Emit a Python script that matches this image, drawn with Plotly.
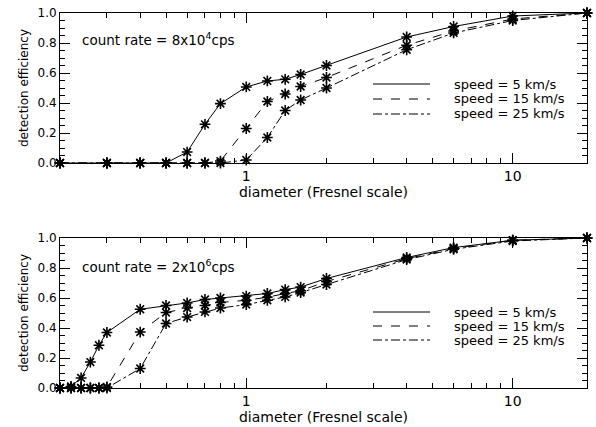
import math
import plotly.graph_objects as go

# ---- data ----
x_top = [0.2, 0.3, 0.4, 0.5, 0.6, 0.7, 0.8, 1.0, 1.2, 1.4, 1.6, 2.0, 4.0, 6.0, 10.0, 19.0]
top_v5 = [0.0, 0.0, 0.0, 0.0, 0.073, 0.258, 0.396, 0.507, 0.547, 0.558, 0.59, 0.65, 0.84, 0.91, 0.98, 1.0]
top_v15 = [0.0, 0.0, 0.0, 0.0, 0.0, 0.0, 0.013, 0.23, 0.41, 0.46, 0.51, 0.57, 0.785, 0.88, 0.96, 1.0]
top_v25 = [0.0, 0.0, 0.0, 0.0, 0.0, 0.0, 0.0, 0.02, 0.17, 0.35, 0.42, 0.50, 0.755, 0.867, 0.95, 1.0]

x_bot = [0.2, 0.22, 0.24, 0.26, 0.28, 0.3, 0.4, 0.5, 0.6, 0.7, 0.8, 1.0, 1.2, 1.4, 1.6, 2.0, 4.0, 6.0, 10.0, 19.0]
bot_v5 = [0.0, 0.01, 0.067, 0.173, 0.285, 0.37, 0.525, 0.55, 0.567, 0.59, 0.60, 0.613, 0.63, 0.656, 0.673, 0.73, 0.87, 0.936, 0.985, 1.0]
bot_v15 = [0.0, 0.0, 0.0, 0.0, 0.0, 0.007, 0.373, 0.503, 0.533, 0.55, 0.57, 0.585, 0.605, 0.63, 0.648, 0.71, 0.862, 0.93, 0.985, 1.0]
bot_v25 = [0.0, 0.0, 0.0, 0.0, 0.0, 0.0, 0.13, 0.43, 0.473, 0.507, 0.533, 0.556, 0.585, 0.607, 0.636, 0.69, 0.856, 0.925, 0.98, 1.0]

series_names = ["speed = 5 km/s", "speed = 15 km/s", "speed = 25 km/s"]
dashes = ["solid", "dash", "dashdot"]
panel_labels = ["count rate = 8x10<sup>4</sup>cps", "count rate = 2x10<sup>6</sup>cps"]
x_ticks = [1, 10]
x_minor = [0.2, 0.3, 0.4, 0.5, 0.6, 0.7, 0.8, 0.9, 2, 3, 4, 5, 6, 7, 8, 9]

FONT = "DejaVu Sans"
W, H = 596, 427
ML, MR, MT, MB = 60, 9, 13, 39
PW, PH = W - ML - MR, H - MT - MB

def py(px):  # pixel y (from top of page) -> paper fraction
    return (H - MB - px) / PH

def pxf(px):  # pixel x -> paper fraction
    return (px - ML) / PW

fig = go.Figure()

panels = [
    (x_top, [top_v5, top_v15, top_v25], "x", "y"),
    (x_bot, [bot_v5, bot_v15, bot_v25], "x2", "y2"),
]

for xs, ys_list, xa, ya in panels:
    for name, ys, dash in zip(series_names, ys_list, dashes):
        fig.add_trace(go.Scatter(
            x=xs, y=ys, mode="lines+markers", xaxis=xa, yaxis=ya, name=name,
            line=dict(color="black", width=1, dash=dash),
            marker=dict(symbol="asterisk-open", size=9, line=dict(color="black", width=1.6)),
            showlegend=False, cliponaxis=False,
        ))

xrange_ = [math.log10(0.2), math.log10(19.0)]

def xaxis_cfg(anchor):
    return dict(
        type="log", range=xrange_, anchor=anchor, automargin=False,
        tickvals=x_ticks, ticktext=[str(v) for v in x_ticks],
        ticks="inside", ticklen=10, tickwidth=1, tickcolor="black",
        minor=dict(tickvals=x_minor, ticks="inside", ticklen=5, tickwidth=1, tickcolor="black"),
        showline=True, linecolor="black", linewidth=1, mirror="ticks",
        showgrid=False, zeroline=False,
        title=dict(text="diameter (Fresnel scale)", font=dict(size=14, family=FONT, color="black"), standoff=0),
        tickfont=dict(size=14, family=FONT, color="black"),
        domain=[0, 1],
    )

def yaxis_cfg(anchor, dom):
    return dict(
        range=[0, 1.0], anchor=anchor, automargin=False,
        dtick=0.2, tick0=0, tickformat=".1f",
        ticks="inside", ticklen=10, tickwidth=1, tickcolor="black",
        minor=dict(dtick=0.05, ticks="inside", ticklen=5, tickwidth=1, tickcolor="black"),
        showline=True, linecolor="black", linewidth=1, mirror="ticks",
        showgrid=False, zeroline=False,
        title=dict(text="detection efficiency", font=dict(size=12, family=FONT, color="black"), standoff=6),
        tickfont=dict(size=12, family=FONT, color="black"),
        domain=dom,
    )

annotations = []
shapes = []
label_y = [39, 266]
legend_rows = [[84, 99, 114], [312, 326, 340]]
for i in range(2):
    annotations.append(dict(
        text=panel_labels[i], xref="paper", yref="paper", x=pxf(80), y=py(label_y[i]),
        xanchor="left", yanchor="middle", showarrow=False,
        font=dict(size=13.5, family=FONT, color="black")))
    for name, dash, ry in zip(series_names, dashes, legend_rows[i]):
        shapes.append(dict(type="line", xref="paper", yref="paper",
                           x0=pxf(373), x1=pxf(430), y0=py(ry), y1=py(ry),
                           line=dict(color="black", width=1, dash=dash)))
        annotations.append(dict(
            text=name, xref="paper", yref="paper", x=pxf(452), y=py(ry),
            xanchor="left", yanchor="middle", showarrow=False,
            font=dict(size=13, family=FONT, color="black")))

fig.update_layout(
    width=W, height=H,
    margin=dict(l=ML, r=MR, t=MT, b=MB, autoexpand=False),
    paper_bgcolor="white", plot_bgcolor="white",
    font=dict(family=FONT, size=12, color="black"),
    showlegend=False,
    xaxis=xaxis_cfg("y"),
    yaxis=yaxis_cfg("x", [py(163), 1.0]),
    xaxis2=xaxis_cfg("y2"),
    yaxis2=yaxis_cfg("x2", [0.0, py(238)]),
    annotations=annotations,
    shapes=shapes,
)

fig.write_html(
    "out.html",
    config={"displayModeBar": False},
    post_script="document.body.style.margin='0';document.body.style.padding='0';",
)
